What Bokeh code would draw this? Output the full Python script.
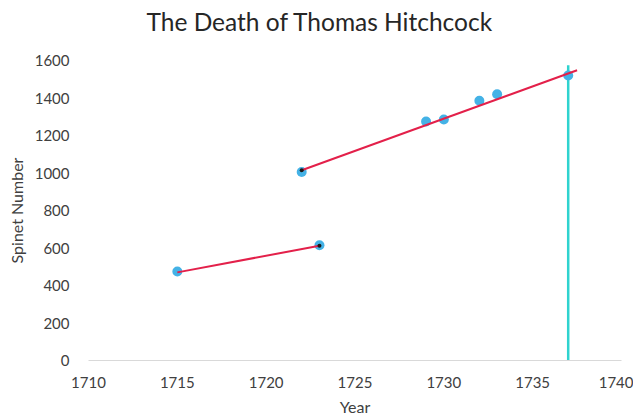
from bokeh.plotting import figure
from bokeh.models import Range1d, FixedTicker, Title
from bokeh.embed import file_html
from bokeh.resources import INLINE

years = [1715, 1722, 1723, 1729, 1730, 1732, 1733, 1737]
spinets = [475, 1005, 615, 1275, 1285, 1385, 1420, 1520]

fit1_x = [1715, 1723]
fit1_y = [470, 612]
fit2_x = [1722, 1737.5]
fit2_y = [1015, 1548]

death_x = [1737, 1737]
death_y = [0, 1575]

x_ticks = [1710, 1715, 1720, 1725, 1730, 1735, 1740]
y_ticks = [0, 200, 400, 600, 800, 1000, 1200, 1400, 1600]

FONT = "Lato"

p = figure(frame_width=533, frame_height=300, output_backend="svg", toolbar_location=None,
           x_range=Range1d(1710, 1740), y_range=Range1d(0, 1600),
           min_border_left=88, min_border_right=12, min_border_top=60,
           min_border_bottom=48)
p.title = None
spacer = Title(text=" ", text_font_size="19px", standoff=0)
p.add_layout(spacer, "above")
t = Title(text="The Death of Thomas Hitchcock", align="left", offset=58,
          text_font=FONT, text_font_size="24.5px", text_font_style="normal",
          text_color="#262626", standoff=0, vertical_align="top")
p.add_layout(t, "above")

p.outline_line_color = None
p.xgrid.grid_line_color = None
p.ygrid.grid_line_color = None

p.xaxis.ticker = FixedTicker(ticks=x_ticks)
p.yaxis.ticker = FixedTicker(ticks=y_ticks)
for ax in (p.xaxis[0], p.yaxis[0]):
    ax.major_tick_line_color = None
    ax.minor_tick_line_color = None
    ax.major_label_text_font = FONT
    ax.major_label_text_font_size = "15px"
    ax.major_label_text_color = "#404040"
    ax.axis_label_text_font = FONT
    ax.axis_label_text_font_size = "16px"
    ax.axis_label_text_font_style = "normal"
    ax.axis_label_text_color = "#404040"
p.xaxis.axis_label = "Year"
p.yaxis.axis_label = "Spinet Number"
p.xaxis.axis_line_color = "#d9d9d9"
p.yaxis.axis_line_color = None
p.xaxis.major_label_standoff = 10
p.yaxis.major_label_standoff = 13
p.xaxis.axis_label_standoff = 6
p.yaxis.axis_label_standoff = 6

p.line(death_x, death_y, line_color="#2fd3cf", line_width=2.5)
p.scatter(years, spinets, size=10, fill_color="#44b2e6", line_color=None)
p.line(fit1_x, fit1_y, line_color="#e3204a", line_width=2)
p.line(fit2_x, fit2_y, line_color="#e3204a", line_width=2)
p.scatter([fit1_x[1], fit2_x[0]], [fit1_y[1], fit2_y[0]], size=4,
          fill_color="#1a1a1a", line_color=None)

open("out.html", "w").write(file_html(p, INLINE))
